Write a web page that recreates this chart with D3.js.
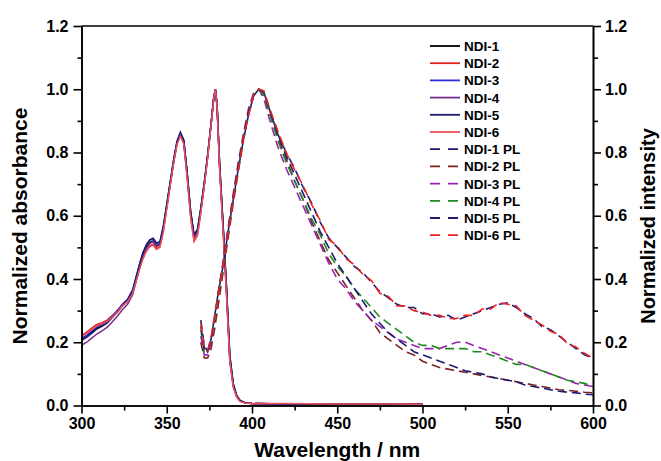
<!DOCTYPE html>
<html>
<head>
<meta charset="utf-8">
<script src="https://cdn.jsdelivr.net/npm/d3@7"></script>
<style>
  body { margin: 0; background: #fff; }
  svg { display: block; font-family: "Liberation Sans", Arial, sans-serif; font-weight: bold; }
  .axis path, .axis line { stroke: #000; stroke-width: 1.6; }
  .axis text { font-size: 16px; font-weight: bold; fill: #000; }
</style>
</head>
<body>
<div id="chart"></div>
<script>
// absorbance wavelengths (nm)
const absWl = [300, 303, 306, 309, 312, 315, 318, 321, 324, 327, 330, 332, 334, 336, 338, 340, 342, 344, 346, 348,
  350, 352, 354, 356, 358, 360, 362, 364, 366, 368, 370, 372, 374, 376, 377.5, 378.5, 379.5, 381, 383, 385,
  387, 389, 391, 393, 396, 400, 420, 450, 480, 500];

const ndi1 = [0.210, 0.220, 0.232, 0.245, 0.252, 0.262, 0.278, 0.295, 0.315, 0.330, 0.360, 0.400, 0.440, 0.475, 0.500, 0.515, 0.520, 0.505, 0.510, 0.560,
  0.630, 0.700, 0.770, 0.830, 0.860, 0.835, 0.730, 0.610, 0.535, 0.550, 0.620, 0.700, 0.790, 0.890, 0.970, 1.000, 0.950, 0.760, 0.570, 0.370,
  0.150, 0.065, 0.030, 0.015, 0.009, 0.006, 0.005, 0.004, 0.004, 0.004];
const ndi2 = [0.222, 0.232, 0.245, 0.256, 0.262, 0.270, 0.284, 0.300, 0.318, 0.332, 0.358, 0.395, 0.432, 0.466, 0.490, 0.505, 0.510, 0.497, 0.503, 0.552,
  0.625, 0.697, 0.768, 0.828, 0.855, 0.830, 0.722, 0.600, 0.522, 0.540, 0.612, 0.695, 0.785, 0.888, 0.968, 1.000, 0.948, 0.752, 0.560, 0.360,
  0.142, 0.060, 0.028, 0.014, 0.008, 0.006, 0.005, 0.005, 0.004, 0.004];
const ndi3 = [0.212, 0.222, 0.236, 0.250, 0.257, 0.267, 0.283, 0.300, 0.320, 0.336, 0.366, 0.406, 0.446, 0.482, 0.507, 0.522, 0.527, 0.512, 0.516, 0.566,
  0.636, 0.706, 0.776, 0.836, 0.865, 0.840, 0.736, 0.615, 0.540, 0.555, 0.624, 0.703, 0.792, 0.891, 0.970, 1.000, 0.952, 0.764, 0.575, 0.376,
  0.155, 0.068, 0.031, 0.015, 0.009, 0.006, 0.005, 0.004, 0.004, 0.004];
const ndi4 = [0.190, 0.200, 0.213, 0.226, 0.236, 0.247, 0.264, 0.282, 0.303, 0.320, 0.350, 0.392, 0.434, 0.470, 0.496, 0.512, 0.518, 0.503, 0.508, 0.558,
  0.628, 0.699, 0.769, 0.829, 0.858, 0.833, 0.728, 0.608, 0.532, 0.548, 0.618, 0.699, 0.789, 0.889, 0.969, 1.000, 0.950, 0.758, 0.568, 0.368,
  0.148, 0.064, 0.030, 0.015, 0.009, 0.006, 0.005, 0.004, 0.004, 0.004];
const ndi5 = [0.205, 0.215, 0.228, 0.242, 0.250, 0.261, 0.279, 0.297, 0.318, 0.334, 0.364, 0.405, 0.446, 0.482, 0.508, 0.524, 0.529, 0.514, 0.518, 0.567,
  0.636, 0.705, 0.775, 0.834, 0.862, 0.838, 0.735, 0.614, 0.540, 0.556, 0.625, 0.704, 0.793, 0.892, 0.971, 1.000, 0.953, 0.766, 0.578, 0.380,
  0.158, 0.070, 0.032, 0.016, 0.009, 0.006, 0.005, 0.004, 0.004, 0.004];
const ndi6 = [0.218, 0.228, 0.240, 0.252, 0.258, 0.266, 0.280, 0.296, 0.315, 0.329, 0.354, 0.392, 0.430, 0.463, 0.487, 0.502, 0.507, 0.493, 0.500, 0.549,
  0.622, 0.694, 0.765, 0.825, 0.852, 0.826, 0.718, 0.596, 0.518, 0.537, 0.610, 0.693, 0.784, 0.887, 0.968, 1.000, 0.946, 0.748, 0.555, 0.355,
  0.138, 0.058, 0.027, 0.013, 0.008, 0.006, 0.006, 0.005, 0.005, 0.004];

// photoluminescence wavelengths (nm)
const plWl = [370, 372, 374, 376, 378, 380, 383, 386, 389, 392, 395, 398, 401, 404, 407, 410, 415, 420, 425, 430,
  435, 440, 445, 450, 455, 460, 465, 470, 475, 480, 485, 490, 495, 500, 505, 510, 515, 520, 525, 530,
  535, 540, 545, 550, 555, 560, 565, 570, 575, 580, 585, 590, 595, 600];

const ndi1pl = [0.270, 0.190, 0.170, 0.210, 0.280, 0.350, 0.440, 0.550, 0.650, 0.750, 0.840, 0.920, 0.980, 1.000, 0.990, 0.940, 0.860, 0.800, 0.750, 0.690,
  0.640, 0.580, 0.530, 0.500, 0.470, 0.440, 0.420, 0.390, 0.360, 0.340, 0.320, 0.310, 0.310, 0.290, 0.290, 0.280, 0.285, 0.270, 0.280, 0.290,
  0.300, 0.310, 0.320, 0.325, 0.310, 0.290, 0.275, 0.250, 0.240, 0.220, 0.200, 0.180, 0.160, 0.150];
const ndi2pl = [0.200, 0.150, 0.150, 0.180, 0.240, 0.310, 0.420, 0.530, 0.640, 0.740, 0.840, 0.920, 0.980, 1.000, 0.980, 0.930, 0.850, 0.780, 0.710, 0.650,
  0.580, 0.520, 0.460, 0.420, 0.380, 0.340, 0.300, 0.270, 0.230, 0.210, 0.190, 0.170, 0.160, 0.140, 0.130, 0.120, 0.115, 0.110, 0.105, 0.100,
  0.095, 0.090, 0.085, 0.080, 0.075, 0.070, 0.065, 0.060, 0.055, 0.050, 0.048, 0.045, 0.042, 0.040];
const ndi3pl = [0.220, 0.160, 0.160, 0.200, 0.270, 0.350, 0.450, 0.560, 0.670, 0.770, 0.860, 0.940, 0.990, 1.000, 0.970, 0.910, 0.820, 0.750, 0.690, 0.630,
  0.570, 0.510, 0.450, 0.400, 0.370, 0.330, 0.300, 0.270, 0.250, 0.230, 0.210, 0.200, 0.190, 0.180, 0.180, 0.180, 0.190, 0.200, 0.200, 0.190,
  0.180, 0.170, 0.160, 0.150, 0.140, 0.130, 0.120, 0.110, 0.100, 0.090, 0.080, 0.070, 0.065, 0.060];
const ndi4pl = [0.240, 0.170, 0.170, 0.210, 0.270, 0.340, 0.440, 0.550, 0.660, 0.760, 0.850, 0.930, 0.980, 1.000, 0.980, 0.930, 0.840, 0.770, 0.710, 0.650,
  0.590, 0.540, 0.480, 0.440, 0.410, 0.370, 0.340, 0.310, 0.280, 0.260, 0.240, 0.220, 0.200, 0.190, 0.190, 0.180, 0.180, 0.180, 0.180, 0.170,
  0.170, 0.160, 0.150, 0.140, 0.130, 0.130, 0.120, 0.110, 0.100, 0.090, 0.080, 0.075, 0.070, 0.060];
const ndi5pl = [0.250, 0.180, 0.170, 0.210, 0.280, 0.350, 0.450, 0.560, 0.660, 0.760, 0.850, 0.930, 0.980, 1.000, 0.990, 0.940, 0.860, 0.790, 0.730, 0.670,
  0.610, 0.550, 0.500, 0.450, 0.410, 0.370, 0.330, 0.290, 0.260, 0.230, 0.210, 0.190, 0.170, 0.160, 0.150, 0.140, 0.130, 0.120, 0.110, 0.105,
  0.100, 0.090, 0.085, 0.080, 0.075, 0.065, 0.060, 0.055, 0.050, 0.045, 0.042, 0.040, 0.036, 0.034];
const ndi6pl = [0.260, 0.185, 0.175, 0.215, 0.280, 0.345, 0.445, 0.550, 0.655, 0.750, 0.845, 0.920, 0.985, 1.000, 0.995, 0.945, 0.870, 0.800, 0.745, 0.695,
  0.635, 0.585, 0.525, 0.505, 0.465, 0.445, 0.415, 0.395, 0.355, 0.345, 0.315, 0.315, 0.300, 0.295, 0.285, 0.285, 0.275, 0.275, 0.285, 0.285,
  0.305, 0.305, 0.325, 0.320, 0.315, 0.285, 0.270, 0.255, 0.235, 0.225, 0.195, 0.185, 0.165, 0.150];

const absNames = ['NDI-1', 'NDI-2', 'NDI-3', 'NDI-4', 'NDI-5', 'NDI-6'];
const plNames = ['NDI-1 PL', 'NDI-2 PL', 'NDI-3 PL', 'NDI-4 PL', 'NDI-5 PL', 'NDI-6 PL'];
const absColors = ['#000000', '#e3211d', '#2b2fe0', '#7a2e8c', '#1c1c6c', '#ec525c'];
const plColors = ['#1c1c72', '#7a2222', '#9c22b2', '#228a22', '#1c1c72', '#ec2222'];

const absSeries = [ndi1, ndi2, ndi3, ndi4, ndi5, ndi6];
const plSeries = [ndi1pl, ndi2pl, ndi3pl, ndi4pl, ndi5pl, ndi6pl];

const xTicks = [300, 350, 400, 450, 500, 550, 600];
const xMinor = [325, 375, 425, 475, 525, 575];
const yTicks = [0, 0.2, 0.4, 0.6, 0.8, 1.0, 1.2];
const yMinor = [0.1, 0.3, 0.5, 0.7, 0.9, 1.1];

const svgWidth = 661, svgHeight = 461;
const margin = { top: 26, right: 68, bottom: 55.5, left: 81.5 };
const width = svgWidth - margin.left - margin.right;
const height = svgHeight - margin.top - margin.bottom;

const x = d3.scaleLinear().domain([300, 600]).range([0, width]);
const y = d3.scaleLinear().domain([0, 1.2]).range([height, 0]);

const svg = d3.select('#chart').append('svg')
  .attr('width', svgWidth)
  .attr('height', svgHeight);

const g = svg.append('g')
  .attr('transform', 'translate(' + margin.left + ',' + margin.top + ')');

const line = d3.line()
  .x(d => x(d[0]))
  .y(d => y(d[1]));

// absorbance curves
absSeries.forEach((s, i) => {
  g.append('path')
    .datum(absWl.map((w, j) => [w, s[j]]))
    .attr('fill', 'none')
    .attr('stroke', absColors[i])
    .attr('stroke-width', 1.5)
    .attr('d', line);
});

// PL curves
plSeries.forEach((s, i) => {
  g.append('path')
    .datum(plWl.map((w, j) => [w, s[j]]))
    .attr('fill', 'none')
    .attr('stroke', plColors[i])
    .attr('stroke-width', 1.6)
    .attr('stroke-dasharray', '9,5')
    .attr('d', line);
});

// top frame line
g.append('line')
  .attr('x1', 0).attr('x2', width)
  .attr('y1', 0).attr('y2', 0)
  .attr('stroke', '#000').attr('stroke-width', 1.6);

// axes
const fmt = d3.format('.1f');
g.append('g').attr('class', 'axis')
  .attr('transform', 'translate(0,' + height + ')')
  .call(d3.axisBottom(x).tickValues(xTicks).tickFormat(d3.format('d')).tickSize(8).tickSizeOuter(0).tickPadding(4));
g.append('g').attr('class', 'axis')
  .attr('transform', 'translate(0,' + height + ')')
  .call(d3.axisBottom(x).tickValues(xMinor).tickFormat('').tickSize(5).tickSizeOuter(0));

g.append('g').attr('class', 'axis')
  .call(d3.axisLeft(y).tickValues(yTicks).tickFormat(fmt).tickSize(8).tickSizeOuter(0).tickPadding(5));
g.append('g').attr('class', 'axis')
  .call(d3.axisLeft(y).tickValues(yMinor).tickFormat('').tickSize(4).tickSizeOuter(0));

g.append('g').attr('class', 'axis')
  .attr('transform', 'translate(' + width + ',0)')
  .call(d3.axisRight(y).tickValues(yTicks).tickFormat(fmt).tickSize(8).tickSizeOuter(0).tickPadding(4));
g.append('g').attr('class', 'axis')
  .attr('transform', 'translate(' + width + ',0)')
  .call(d3.axisRight(y).tickValues(yMinor).tickFormat('').tickSize(5).tickSizeOuter(0));

// axis titles
svg.append('text')
  .attr('x', margin.left + width / 2)
  .attr('y', 457)
  .attr('text-anchor', 'middle')
  .style('font-size', '21px')
  .text('Wavelength / nm');

svg.append('text')
  .attr('transform', 'translate(27,226) rotate(-90)')
  .attr('text-anchor', 'middle')
  .style('font-size', '21px')
  .text('Normalized absorbance');

svg.append('text')
  .attr('transform', 'translate(655,226) rotate(-90)')
  .attr('text-anchor', 'middle')
  .style('font-size', '20px')
  .text('Normalized intensity');

// legend
const legendItems = absNames.map((n, i) => ({ name: n, color: absColors[i], dash: null }))
  .concat(plNames.map((n, i) => ({ name: n, color: plColors[i], dash: '10,8' })));

const legend = svg.append('g').attr('transform', 'translate(430,46)');
legendItems.forEach((d, i) => {
  const row = legend.append('g').attr('transform', 'translate(0,' + (i * 17.2) + ')');
  row.append('line')
    .attr('x1', 0).attr('x2', 30)
    .attr('y1', 0).attr('y2', 0)
    .attr('stroke', d.color)
    .attr('stroke-width', 1.8)
    .attr('stroke-dasharray', d.dash);
  row.append('text')
    .attr('x', 34)
    .attr('y', 5)
    .style('font-size', '13.5px')
    .text(d.name);
});
</script>
</body>
</html>
